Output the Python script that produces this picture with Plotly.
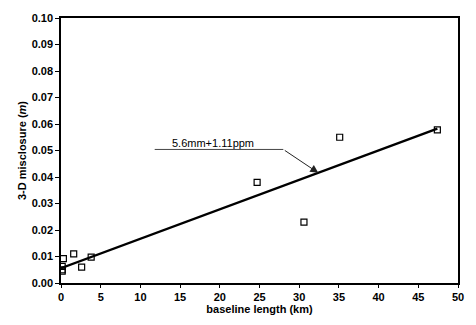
import plotly.graph_objects as go

# Baseline lengths (km) and 3-D misclosures (m)
baseline_km = [0.15, 0.15, 0.15, 0.3, 1.6, 2.6, 3.8, 24.7, 30.6, 35.1, 47.4]
misclosure_m = [0.0045, 0.005, 0.0063, 0.0092, 0.011, 0.006, 0.0098, 0.038, 0.023, 0.055, 0.0578]

# Fitted line: 5.6 mm + 1.11 ppm
fit_x = [0.0, 47.4]
fit_intercept = 0.0056
fit_slope = 0.00111  # m per km
fit_y = [fit_intercept + fit_slope * v for v in fit_x]

font_family = "Liberation Sans, Arial, sans-serif"

fig = go.Figure()
fig.add_trace(go.Scatter(x=fit_x, y=fit_y, mode="lines",
                         line=dict(color="black", width=2.4), showlegend=False))
fig.add_trace(go.Scatter(x=baseline_km, y=misclosure_m, mode="markers",
                         marker=dict(symbol="square-open", size=6, color="black",
                                     line=dict(width=1.2, color="black")),
                         showlegend=False))

# Leader line for the label
fig.add_shape(type="line", x0=11.8, y0=0.0504, x1=28.0, y1=0.0504,
              line=dict(color="#444", width=1))
fig.add_annotation(x=32.4, y=fit_intercept + fit_slope * 32.4, ax=28.0, ay=0.0504,
                   xref="x", yref="y", axref="x", ayref="y",
                   text="", showarrow=True, arrowhead=2, arrowsize=1.6,
                   arrowwidth=1, arrowcolor="#222")
fig.add_annotation(x=19.2, y=0.0529, text="5.6mm+1.11ppm", showarrow=False,
                   font=dict(size=11, color="black", family=font_family))

fig.update_layout(
    width=476, height=325,
    margin=dict(l=61, r=15, t=12, b=35),
    paper_bgcolor="white", plot_bgcolor="white",
    font=dict(family=font_family, size=11, color="black"),
    xaxis=dict(range=[0, 50], dtick=5, tick0=0, showgrid=False, zeroline=False,
               showline=True, linecolor="black", linewidth=1.5, mirror=True,
               ticks="outside", ticklen=3, tickcolor="black",
               tickfont=dict(size=11, weight="bold"),
               title=dict(text="<b>baseline length (km)</b>", font=dict(size=11), standoff=2)),
    yaxis=dict(range=[0, 0.10], dtick=0.01, tick0=0, tickformat=".2f",
               showgrid=False, zeroline=False,
               showline=True, linecolor="black", linewidth=1.5, mirror=True,
               ticks="outside", ticklen=4, tickcolor="black",
               tickfont=dict(size=11, weight="bold"),
               title=dict(text="<b>3-D misclosure (<i>m</i>)</b>", font=dict(size=11), standoff=3)),
)

fig.write_html("out.html")
